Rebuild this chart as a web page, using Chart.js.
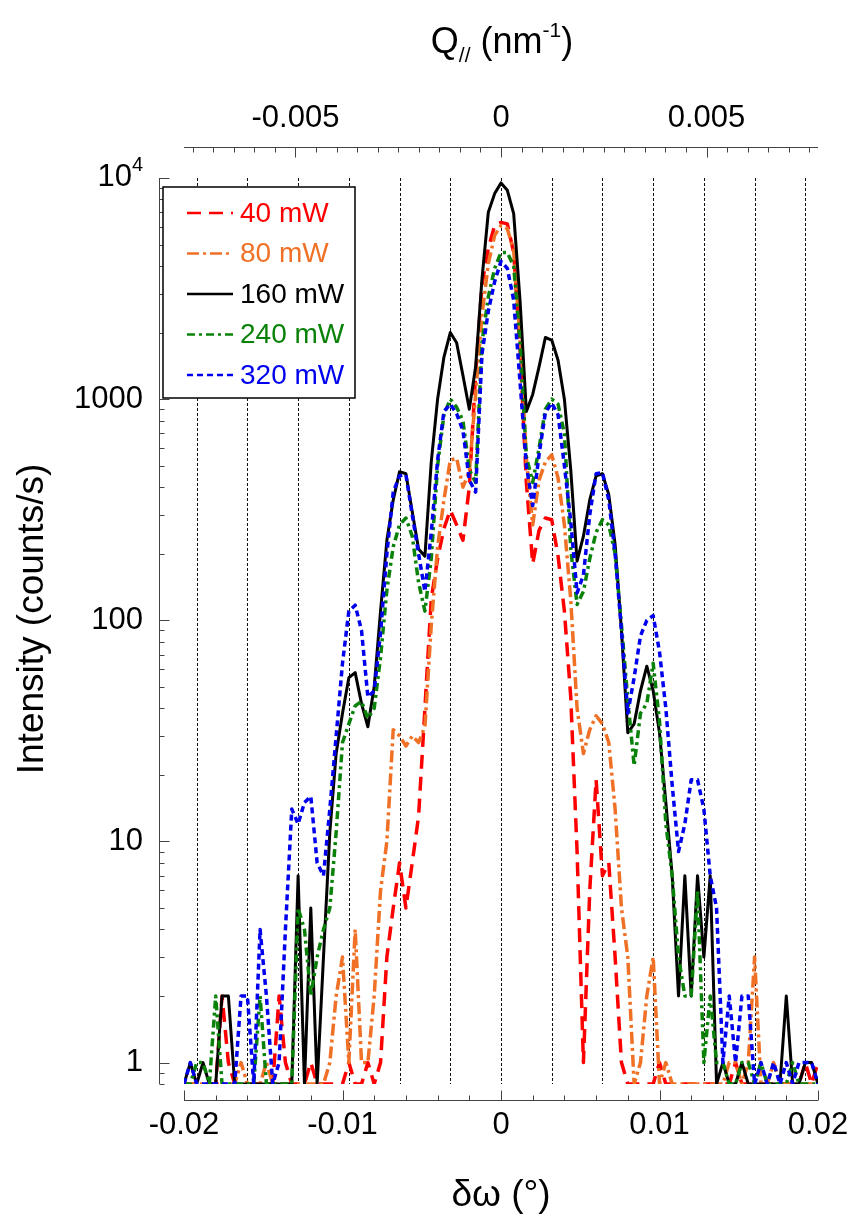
<!DOCTYPE html>
<html>
<head>
<meta charset="utf-8">
<title>Rocking curves</title>
<script src="https://cdn.jsdelivr.net/npm/chart.js@4.4.0/dist/chart.umd.min.js"></script>
<style>
    html, body { margin: 0; padding: 0; background: #fff; }
</style>
</head>
<body>
<canvas id="rocking-chart" width="855" height="1221"></canvas>
<script>
// δω (°), sampled every 0.0004°
const deltaOmega = [
    -0.0200, -0.0196, -0.0192, -0.0188, -0.0184, -0.0180, -0.0176, -0.0172, -0.0168, -0.0164,
    -0.0160, -0.0156, -0.0152, -0.0148, -0.0144, -0.0140, -0.0136, -0.0132, -0.0128, -0.0124,
    -0.0120, -0.0116, -0.0112, -0.0108, -0.0104, -0.0100, -0.0096, -0.0092, -0.0088, -0.0084,
    -0.0080, -0.0076, -0.0072, -0.0068, -0.0064, -0.0060, -0.0056, -0.0052, -0.0048, -0.0044,
    -0.0040, -0.0036, -0.0032, -0.0028, -0.0024, -0.0020, -0.0016, -0.0012, -0.0008, -0.0004,
    0,
    0.0004, 0.0008, 0.0012, 0.0016, 0.0020, 0.0024, 0.0028, 0.0032, 0.0036, 0.0040,
    0.0044, 0.0048, 0.0052, 0.0056, 0.0060, 0.0064, 0.0068, 0.0072, 0.0076, 0.0080,
    0.0084, 0.0088, 0.0092, 0.0096, 0.0100, 0.0104, 0.0108, 0.0112, 0.0116, 0.0120,
    0.0124, 0.0128, 0.0132, 0.0136, 0.0140, 0.0144, 0.0148, 0.0152, 0.0156, 0.0160,
    0.0164, 0.0168, 0.0172, 0.0176, 0.0180, 0.0184, 0.0188, 0.0192, 0.0196, 0.0200,
];

// intensity (counts/s); 0 = no counts, drawn down to the axis floor
const power40 = [
    0, 0, 0, 0, 0, 0, 2, 1, 0, 0,
    0, 0, 0, 0, 0, 2, 1, 0, 0, 0,
    1, 0, 0, 0, 0, 0, 1, 0, 0, 1,
    0, 1, 3, 5, 8, 5, 8, 13, 40, 125,
    190, 260, 315, 270, 230, 400, 1300, 3300, 4800, 6100,
    6300, 6200, 4600, 1700, 420, 180, 255, 290, 285, 195,
    110, 45, 9, 1, 6, 19, 7, 8, 3, 1,
    0, 0, 0, 0, 0, 1, 0, 0, 0, 0,
    0, 0, 0, 0, 0, 0, 0, 1, 0, 0,
    0, 0, 0, 0, 0, 0, 0, 0, 1, 0,
    1,
];
const power80 = [
    0, 0, 0, 0, 0, 0, 0, 0, 0, 1,
    0, 0, 0, 1, 0, 0, 0, 0, 0, 0,
    0, 0, 0, 1, 2, 3, 1, 4, 1, 1,
    2, 6, 10, 32, 30, 27, 30, 28, 33, 95,
    215, 350, 530, 540, 400, 470, 1050, 2400, 4100, 5500,
    6100, 5900, 4700, 1900, 540, 270, 430, 520, 560, 440,
    270, 124, 40, 25, 32, 37, 34, 28, 14, 5,
    3, 0, 1, 2, 3, 0, 1, 0, 0, 0,
    0, 0, 0, 0, 0, 0, 1, 1, 0, 1,
    3, 0, 0, 1, 0, 0, 0, 0, 0, 0,
    0,
];
const power160 = [
    0, 1, 0, 1, 0, 0, 2, 2, 0, 0,
    0, 0, 0, 0, 0, 0, 0, 0, 7, 0,
    5, 0, 3, 11, 25, 38, 55, 58, 42, 33,
    50, 110, 230, 350, 470, 460, 310, 210, 195, 520,
    1000, 1550, 2000, 1800, 1280, 900, 1400, 3500, 7000, 8500,
    9500, 8800, 6900, 2800, 880, 1050, 1400, 1900, 1850, 1500,
    1000, 480, 185, 240, 350, 450, 460, 370, 220, 90,
    31, 34, 48, 62, 48, 31, 15, 7, 2, 7,
    2, 7, 3, 7, 0, 1, 0, 0, 1, 0,
    0, 0, 0, 0, 0, 2, 0, 0, 1, 1,
    0,
];
const power240 = [
    0, 0, 1, 1, 0, 2, 0, 0, 0, 0,
    0, 0, 2, 0, 0, 0, 0, 0, 5, 4,
    2, 3, 4, 5, 11, 28, 34, 41, 43, 36,
    40, 68, 137, 215, 270, 290, 240, 148, 110, 190,
    500, 850, 1000, 920, 800, 480, 420, 1800, 2900, 3900,
    4600, 4600, 4000, 1800, 550, 420, 600, 900, 1000, 950,
    700, 210, 118, 135, 190, 250, 285, 270, 200, 95,
    44, 22, 38, 42, 64, 35, 12, 7, 3, 2,
    2, 6, 1, 2, 1, 1, 0, 0, 1, 1,
    0, 1, 0, 0, 0, 0, 1, 0, 0, 0,
    0,
];
const power320 = [
    0, 1, 0, 0, 0, 0, 0, 0, 0, 2,
    2, 0, 4, 2, 0, 1, 4, 14, 12, 15,
    16, 8, 7, 14, 30, 64, 110, 117, 90, 45,
    48, 88, 200, 380, 450, 455, 300, 200, 135, 250,
    530, 880, 950, 860, 720, 430, 380, 1600, 2500, 3400,
    4200, 3900, 2800, 1200, 500, 330, 560, 870, 960, 850,
    500, 280, 133, 160, 300, 460, 465, 350, 200, 90,
    38, 55, 85, 100, 105, 72, 40, 18, 9, 12,
    19, 19, 14, 7, 5, 1, 2, 1, 2, 2,
    0, 1, 0, 1, 0, 1, 0, 1, 1, 1,
    0,
];

const seriesLabels = ["40 mW", "80 mW", "160 mW", "240 mW", "320 mW"];
const xTicks = [-0.02, -0.01, 0, 0.01, 0.02];
const yTicks = [1, 10, 100, 1000, 10000];
const qTicks = [-0.005, 0, 0.005];
const guideLines = [-0.0192, -0.016, -0.0128, -0.0096, -0.0064, -0.0032, 0,
    0.0032, 0.0064, 0.0096, 0.0128, 0.016, 0.0192];
const qPerDegree = 0.3856; // nm^-1 per degree of δω

const FONT = '"Liberation Sans", Arial, Helvetica, sans-serif';

// parsing is off, so a 0 goes straight to the log scale, which puts it on the axis floor
function toPoints(values) {
    return values.map((v, i) => ({ x: deltaOmega[i], y: v }));
}

function crisp(v) {
    return Math.round(v) + 0.5;
}

function hLine(ctx, x1, x2, y) {
    ctx.beginPath();
    ctx.moveTo(x1, y);
    ctx.lineTo(x2, y);
    ctx.stroke();
}

function vLine(ctx, x, y1, y2) {
    ctx.beginPath();
    ctx.moveTo(x, y1);
    ctx.lineTo(x, y2);
    ctx.stroke();
}

const offsetAxes = {
    id: "offsetAxes",
    beforeDatasetsDraw(chart) {
        const { ctx, chartArea, scales } = chart;
        ctx.save();
        ctx.strokeStyle = "#111";
        ctx.lineWidth = 1;
        ctx.setLineDash([3, 2]);
        guideLines.forEach((v) => {
            const px = crisp(scales.x.getPixelForValue(v));
            vLine(ctx, px, chartArea.top, chartArea.bottom);
        });
        ctx.restore();
    },
    afterDraw(chart) {
        const { ctx, chartArea: area, scales } = chart;
        const x = scales.x;
        const y = scales.y;
        const q = scales.q;
        const leftX = crisp(area.left - 25);
        const bottomY = crisp(area.bottom + 16);
        const topY = crisp(area.top - 31);

        ctx.save();
        ctx.setLineDash([]);
        ctx.strokeStyle = "#444";
        ctx.lineWidth = 1;

        // left axis, ticks pointing right
        vLine(ctx, leftX, area.top, area.bottom);
        for (let d = -1; d <= 3; d++) {
            for (let m = 1; m <= 9; m++) {
                const v = m * Math.pow(10, d);
                if (v < y.min - 1e-9 || v > y.max) continue;
                const py = crisp(y.getPixelForValue(v));
                hLine(ctx, leftX, leftX + (m === 1 ? 10 : 5), py);
            }
        }
        hLine(ctx, leftX, leftX + 10, crisp(y.getPixelForValue(10000)));

        // bottom axis, ticks pointing up
        hLine(ctx, area.left, area.right, bottomY);
        for (let i = -10; i <= 10; i++) {
            const px = crisp(x.getPixelForValue(i * 0.002));
            vLine(ctx, px, bottomY, bottomY - (i % 5 === 0 ? 10 : 5));
        }

        // top axis (Q//), ticks pointing down
        hLine(ctx, area.left, area.right, topY);
        for (let i = -15; i <= 15; i++) {
            const px = crisp(q.getPixelForValue(i * 0.0005));
            vLine(ctx, px, topY, topY + (i % 10 === 0 ? 10 : 5));
        }

        ctx.fillStyle = "#000";
        ctx.font = `31px ${FONT}`;
        ctx.textBaseline = "middle";

        // tick labels
        ctx.textAlign = "center";
        xTicks.forEach((v) => {
            ctx.fillText(String(v), x.getPixelForValue(v), area.bottom + 41);
        });
        qTicks.forEach((v) => {
            ctx.fillText(String(v), q.getPixelForValue(v), area.top - 60);
        });
        ctx.textAlign = "right";
        const labelRight = area.left - 41;
        yTicks.forEach((v) => {
            const py = y.getPixelForValue(v);
            if (v === 10000) {
                ctx.font = `20px ${FONT}`;
                const supW = ctx.measureText("4").width;
                ctx.fillText("4", labelRight, py - 13);
                ctx.font = `31px ${FONT}`;
                ctx.fillText("10", labelRight - supW, py - 1);
            } else {
                ctx.fillText(String(v), labelRight, py);
            }
        });

        // axis titles
        ctx.font = `37px ${FONT}`;
        ctx.textAlign = "center";
        ctx.fillText("δω (°)", (area.left + area.right) / 2, area.bottom + 112);

        ctx.save();
        ctx.translate(43, 619);
        ctx.rotate(-Math.PI / 2);
        ctx.textBaseline = "alphabetic";
        ctx.fillText("Intensity (counts/s)", 0, 0);
        ctx.restore();

        // Q// (nm-1) with sub/superscript
        const big = `36px ${FONT}`;
        const small = `21px ${FONT}`;
        const parts = [
            { t: "Q", f: big, dy: 0 },
            { t: "//", f: small, dy: 9 },
            { t: " (nm", f: big, dy: 0 },
            { t: "-1", f: small, dy: -16 },
            { t: ")", f: big, dy: 0 },
        ];
        let total = 0;
        parts.forEach((p) => {
            ctx.font = p.f;
            p.w = ctx.measureText(p.t).width;
            total += p.w;
        });
        let cx = 502 - total / 2;
        const base = 53;
        ctx.textAlign = "left";
        ctx.textBaseline = "alphabetic";
        parts.forEach((p) => {
            ctx.font = p.f;
            ctx.fillText(p.t, cx, base + p.dy);
            cx += p.w;
        });

        // legend
        const boxL = area.left - 21;
        const boxT = area.top + 9;
        const boxW = 192;
        const boxH = 211;
        ctx.fillStyle = "#fff";
        ctx.fillRect(boxL, boxT, boxW, boxH);
        ctx.strokeStyle = "#000";
        ctx.lineWidth = 1.5;
        ctx.strokeRect(boxL, boxT, boxW, boxH);
        ctx.font = `28px ${FONT}`;
        ctx.textBaseline = "middle";
        chart.data.datasets.forEach((ds, k) => {
            const ly = boxT + 26 + k * 40.5;
            ctx.strokeStyle = ds.borderColor;
            ctx.lineWidth = 2.5;
            ctx.setLineDash(ds.borderDash || []);
            hLine(ctx, boxL + 24, boxL + 70, ly);
            ctx.setLineDash([]);
            ctx.fillStyle = ds.borderColor;
            ctx.fillText(ds.label, boxL + 77, ly + 1);
        });

        ctx.restore();
    },
};

const rockingChart = document.getElementById("rocking-chart");
const config = {
    type: "line",
    data: {
        datasets: [
            {
                label: seriesLabels[0],
                data: toPoints(power40),
                borderColor: "#ff0000",
                borderWidth: 3.5,
                borderDash: [14, 8],
                order: 5,
            },
            {
                label: seriesLabels[1],
                data: toPoints(power80),
                borderColor: "#f07026",
                borderWidth: 3.5,
                borderDash: [12, 4, 3, 4],
                order: 4,
            },
            {
                label: seriesLabels[2],
                data: toPoints(power160),
                borderColor: "#000000",
                borderWidth: 3,
                borderDash: [],
                order: 3,
            },
            {
                label: seriesLabels[3],
                data: toPoints(power240),
                borderColor: "#0a820a",
                borderWidth: 3.5,
                borderDash: [8, 4, 3, 4],
                order: 2,
            },
            {
                label: seriesLabels[4],
                data: toPoints(power320),
                borderColor: "#0000ee",
                borderWidth: 3.5,
                borderDash: [6, 4],
                order: 1,
            },
        ],
    },
    options: {
        responsive: false,
        animation: false,
        devicePixelRatio: 1,
        parsing: false,
        layout: {
            padding: { left: 184, right: 37, top: 178, bottom: 137 },
        },
        elements: {
            point: { radius: 0, hoverRadius: 0 },
            line: { tension: 0, borderJoinStyle: "round", fill: false },
        },
        scales: {
            x: { type: "linear", min: -0.02, max: 0.02, display: false },
            q: {
                type: "linear",
                axis: "x",
                position: "top",
                min: -0.02 * qPerDegree,
                max: 0.02 * qPerDegree,
                display: false,
            },
            y: { type: "logarithmic", min: 0.8, max: 10000, display: false },
        },
        plugins: {
            legend: { display: false },
            tooltip: { enabled: false },
        },
    },
    plugins: [offsetAxes],
};

window.addEventListener("DOMContentLoaded", () => {
    new Chart(rockingChart, config);
});
</script>
</body>
</html>
